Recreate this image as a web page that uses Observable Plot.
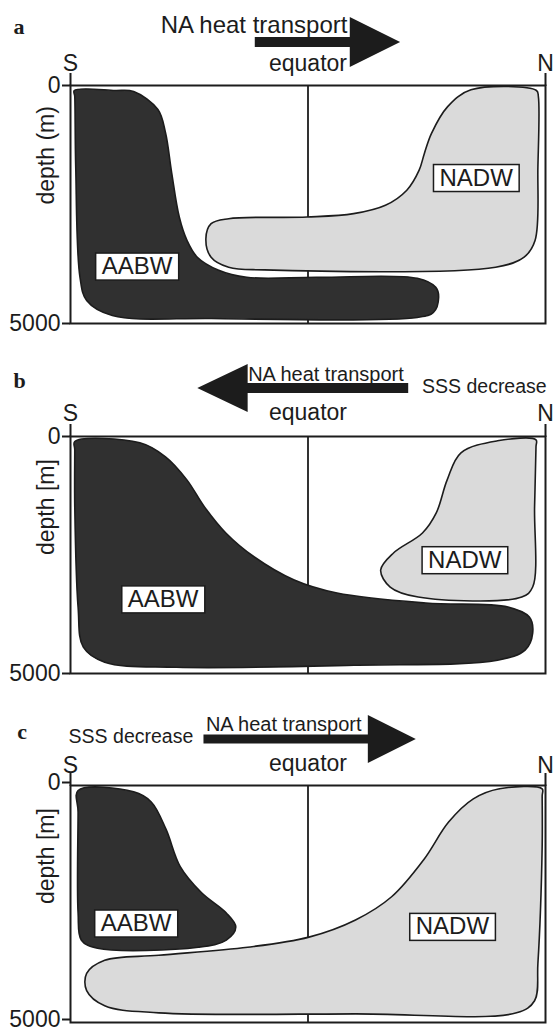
<!DOCTYPE html>
<html><head><meta charset="utf-8">
<script src="https://cdn.jsdelivr.net/npm/d3@7"></script>
<script src="https://cdn.jsdelivr.net/npm/@observablehq/plot@0.6"></script>
<style>
body{margin:0;background:#fff;}
#chart{width:554px;height:1033px;overflow:hidden;}
#chart svg{display:block;}
</style></head><body><div id="chart"></div>
<script>
// ---------- data (x: % of section from S=0 to N=100, depth in m) ----------
const panelLetters = ["a", "b", "c"];
const depthTitles = ["depth (m)", "depth [m]", "depth [m]"];
const endNames = ["S", "N"];
const endPositions = [0, 100];
const depthTicks = [0, 5000];
const equatorPosition = [50];
const waterNames = ["AABW", "NADW"];

const aabwA = [[0.8,105],[9.4,105],[13.3,127],[18.4,506],[20.0,992],[21.3,1835],[22.9,2764],[24.5,3249],[26.7,3608],[31.2,3882],[37.1,4030],[52.1,4030],[73.0,4051],[76.9,4241],[77.5,4452],[76.4,4768],[73.0,4873],[29.7,4895],[8.8,4831],[3.4,4515],[2.0,4030],[1.1,1709],[0.9,232]];
const nadwA = [[98.1,105],[84.3,91],[79.4,443],[76.0,1005],[74.5,1427],[73.4,1779],[70.8,2200],[66.3,2517],[59.6,2692],[49.8,2763],[33.3,2798],[29.6,2903],[28.5,3220],[29.6,3606],[33.3,3817],[40.8,3874],[89.5,3817],[95.5,3606],[97.8,3255],[98.4,1708],[98.5,232]];
const aabwB = [[0.9,106],[14.6,133],[20.0,429],[24.5,915],[28.2,1485],[32.7,2035],[38.7,2542],[47.1,3028],[56.1,3303],[74.8,3514],[92.1,3599],[96.6,3810],[97.3,4148],[95.7,4508],[89.9,4719],[59.7,4825],[22.3,4868],[7.2,4762],[2.7,4445],[1.6,3599],[0.9,1485],[0.9,281]];
const nadwB = [[98.0,70],[89.9,91],[82.2,344],[79.3,915],[77.0,1612],[74.1,2035],[68.0,2457],[65.3,2817],[67.3,3176],[73.2,3387],[95.0,3387],[97.3,3176],[97.7,1485],[98.0,218]];
const aabwC = [[1.6,106],[13.3,134],[17.0,347],[20.1,922],[23.1,1710],[27.6,2263],[32.8,2689],[34.8,2987],[32.8,3263],[26.9,3412],[5.7,3433],[2.3,3263],[1.6,2689],[1.6,560]];
const nadwC = [[99.3,70],[90.3,70],[84.8,283],[79.6,772],[74.4,1560],[67.6,2347],[60.0,2837],[50.2,3199],[37.3,3412],[18.6,3582],[7.2,3689],[3.4,3966],[3.4,4327],[7.2,4647],[18.6,4796],[60.0,4817],[93.9,4796],[97.7,4541],[98.4,3753],[99.3,1284],[99.3,220]];

// label centres [x %, depth m] for AABW, NADW
const labelPosA = [[14.0,3800],[85.4,1940]];
const labelPosB = [[19.5,3433],[83.0,2606]];
const labelPosC = [[13.8,2908],[80.4,2979]];

// ---------- styling / layout ----------
const ink = "#1c1c1c", dark = "#303030", light = "#dadada";
const sans = "'Liberation Sans', Arial, Helvetica, sans-serif";

const panels = [
  {aabw: aabwA, nadw: nadwA, labels: labelPosA, height: 340, marginTop: 85, marginBottom: 17,
   letterX: -12, letterAbove: 52, endsAbove: 15, tickDy: 0,
   texts: [{t: "NA heat transport", x: 58.3, above: 53, anchor: "end", size: 24},
           {t: "equator", x: 50, above: 15, anchor: "middle", size: 23}],
   arrow: {tail: 38.9, base: 58.9, tip: 69.5, above: 43, shaft: 10, head: 50}},
  {aabw: aabwB, nadw: nadwB, labels: labelPosB, height: 350, marginTop: 96, marginBottom: 17,
   letterX: -12, letterAbove: 49, endsAbove: 16, tickDy: 0,
   texts: [{t: "NA heat transport", x: 37.4, above: 56, anchor: "start", size: 20},
           {t: "SSS decrease", x: 74.0, above: 44, anchor: "start", size: 19.5},
           {t: "equator", x: 50, above: 17, anchor: "middle", size: 23}],
   arrow: {tail: 71.2, base: 37.4, tip: 26.8, above: 48, shaft: 10, head: 48}},
  {aabw: aabwC, nadw: nadwC, labels: labelPosC, height: 343, marginTop: 95, marginBottom: 11,
   letterX: -11.2, letterAbove: 47, endsAbove: 13, tickDy: -3,
   texts: [{t: "SSS decrease", x: -0.4, above: 43, anchor: "start", size: 19.5},
           {t: "NA heat transport", x: 28.5, above: 55, anchor: "start", size: 20},
           {t: "equator", x: 50, above: 15, anchor: "middle", size: 23}],
   arrow: {tail: 28.1, base: 62.7, tip: 72.8, above: 46, shaft: 9, head: 48}}
];

function arrowMark(a) {
  return function(...args) {
    const scales = args.find(v => v && typeof v.x === "function" && typeof v.y === "function");
    const dims = args.find(v => v && typeof v.marginTop === "number");
    const x = scales.x;
    const yc = dims.marginTop - a.above;
    const t = x(a.tail), b = x(a.base), tip = x(a.tip);
    const sh = a.shaft / 2, hh = a.head / 2;
    const p = d3.path();
    p.moveTo(t, yc - sh); p.lineTo(b, yc - sh); p.lineTo(b, yc - hh); p.lineTo(tip, yc);
    p.lineTo(b, yc + hh); p.lineTo(b, yc + sh); p.lineTo(t, yc + sh); p.closePath();
    const el = document.createElementNS("http://www.w3.org/2000/svg", "path");
    el.setAttribute("d", p.toString());
    el.setAttribute("fill", ink);
    return el;
  };
}

const chart = document.getElementById("chart");
panels.forEach((p, i) => {
  const labelData = waterNames.map((n, k) => ({name: n, x: p.labels[k][0], d: p.labels[k][1]}));
  const marks = [
    Plot.ruleX(equatorPosition, {stroke: ink, strokeWidth: 1.8}),
    Plot.line(p.nadw, {x: d => d[0], y: d => d[1], curve: "catmull-rom-closed", fill: light, stroke: ink, strokeWidth: 1.6}),
    Plot.line(p.aabw, {x: d => d[0], y: d => d[1], curve: "catmull-rom-closed", fill: dark, stroke: ink, strokeWidth: 1.6}),
    Plot.frame({stroke: ink, strokeWidth: 2}),
    Plot.axisY({ticks: depthTicks, tickSize: 8, tickPadding: 2, tickFormat: d => String(d), label: null, fontSize: 23, stroke: ink, strokeWidth: 2, fill: ink, dy: p.tickDy}),
    Plot.axisX({anchor: "top", ticks: endPositions, tickSize: 13, tickFormat: () => "", label: null, stroke: ink, strokeWidth: 2}),
    Plot.text(endNames, {x: endPositions, frameAnchor: "top", lineAnchor: "bottom", dy: -p.endsAbove, fontSize: 23, fill: ink}),
    Plot.text([depthTitles[i]], {frameAnchor: "left", rotate: -90, dx: -24, fontSize: 23, fill: ink}),
    Plot.text([panelLetters[i]], {x: p.letterX, frameAnchor: "top", lineAnchor: "bottom", textAnchor: "start", dy: -p.letterAbove, fontSize: 22, fontWeight: "bold", fontFamily: "'Liberation Serif', 'Times New Roman', serif", fill: ink}),
    ...p.texts.map(t => Plot.text([t.t], {x: t.x, frameAnchor: "top", lineAnchor: "bottom", textAnchor: t.anchor, dy: -t.above, fontSize: t.size, fill: ink})),
    arrowMark(p.arrow),
    Plot.text(labelData, {x: "x", y: "d", text: "name", fontSize: 24, fill: ink})
  ];
  const svg = Plot.plot({
    width: 554, height: p.height,
    marginLeft: 70, marginRight: 9, marginTop: p.marginTop, marginBottom: p.marginBottom,
    x: {domain: [0, 100], axis: null},
    y: {domain: [0, 5000], reverse: true, axis: null},
    style: {fontFamily: sans, fontSize: "23px", color: ink, background: "white", overflow: "visible"},
    marks
  });
  chart.appendChild(svg);
  const ns = "http://www.w3.org/2000/svg";
  Array.from(svg.querySelectorAll("text"))
    .filter(t => waterNames.includes(t.textContent.trim()))
    .forEach(t => {
      const b = t.getBBox();
      const r = document.createElementNS(ns, "rect");
      r.setAttribute("x", b.x - 6);
      r.setAttribute("y", b.y + 1);
      r.setAttribute("width", b.width + 12);
      r.setAttribute("height", b.height);
      r.setAttribute("fill", "white");
      r.setAttribute("stroke", ink);
      r.setAttribute("stroke-width", 1.5);
      if (t.getAttribute("transform")) r.setAttribute("transform", t.getAttribute("transform"));
      t.parentNode.insertBefore(r, t);
    });
});
</script></body></html>
